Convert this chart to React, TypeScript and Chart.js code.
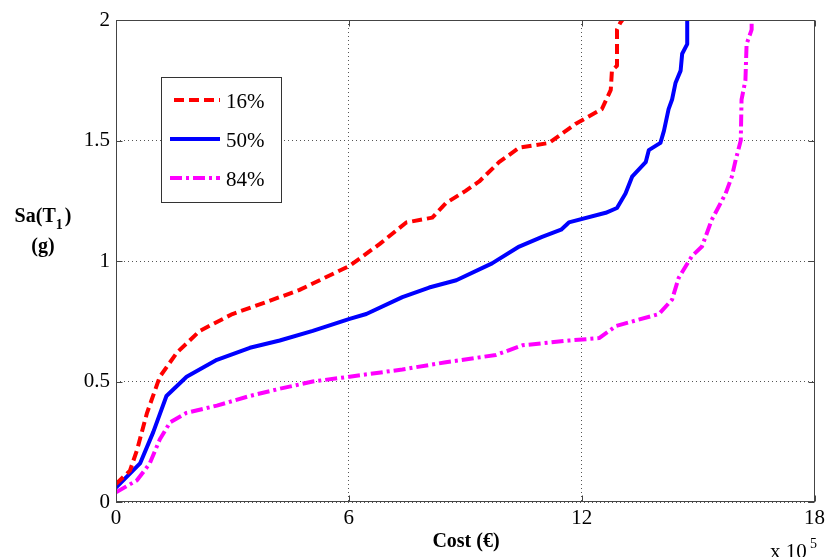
import React, { useEffect, useRef } from "react";
import { Chart, registerables } from "chart.js";

Chart.register(...registerables);

// Cost (x 10^5 €) and Sa(T1) (g) for each percentile curve
const cost16 = [0, 0.36, 0.54, 0.8, 1.13, 1.57, 2.16, 3.0, 3.88, 4.73, 6.02, 6.79, 7.48, 8.15, 8.5, 9.0, 9.36, 9.87, 10.39, 11.16, 11.85, 12.52, 12.75, 12.78, 12.91, 12.91, 13.0, 13.05];
const sa16 = [0.075, 0.13, 0.215, 0.37, 0.52, 0.62, 0.71, 0.78, 0.83, 0.88, 0.98, 1.07, 1.16, 1.18, 1.24, 1.29, 1.33, 1.41, 1.47, 1.49, 1.57, 1.63, 1.71, 1.79, 1.81, 1.96, 1.99, 2.0];

const cost50 = [0, 0.62, 0.96, 1.3, 1.82, 2.6, 3.45, 4.22, 5.07, 6.02, 6.45, 7.38, 8.07, 8.77, 9.69, 10.39, 10.98, 11.47, 11.67, 12.62, 12.91, 13.13, 13.3, 13.65, 13.73, 14.03, 14.12, 14.24, 14.33, 14.42, 14.55, 14.59, 14.72, 14.72];
const sa50 = [0.06, 0.16, 0.29, 0.44, 0.52, 0.59, 0.64, 0.67, 0.71, 0.76, 0.78, 0.85, 0.89, 0.92, 0.99, 1.06, 1.1, 1.13, 1.16, 1.2, 1.22, 1.28, 1.35, 1.41, 1.46, 1.49, 1.54, 1.63, 1.67, 1.74, 1.79, 1.86, 1.9, 2.0];

const cost84 = [0, 0.54, 0.87, 1.13, 1.39, 1.82, 2.6, 3.45, 4.22, 5.07, 6.02, 7.38, 8.5, 9.79, 10.47, 11.67, 12.45, 12.88, 13.99, 14.33, 14.5, 14.84, 15.1, 15.35, 15.71, 15.87, 15.97, 16.1, 16.12, 16.22, 16.25, 16.38, 16.38];
const sa84 = [0.04, 0.09, 0.16, 0.26, 0.33, 0.37, 0.4, 0.44, 0.47, 0.5, 0.52, 0.55, 0.58, 0.61, 0.65, 0.67, 0.68, 0.73, 0.78, 0.84, 0.93, 1.02, 1.06, 1.17, 1.28, 1.35, 1.42, 1.5, 1.67, 1.75, 1.9, 1.96, 2.0];

const seriesLabels = ["16%", "50%", "84%"];
const seriesColors = ["#ff0000", "#0000ff", "#ff00ff"];
const seriesDashes = [[10, 5], [], [12, 4, 3, 4]];

const xTicks = [0, 6, 12, 18];
const yTicks = [0, 0.5, 1, 1.5, 2];

const SERIF = '"Liberation Serif", "Times New Roman", serif';

function toPoints(xs: number[], ys: number[]) {
  return xs.map((x, i) => ({ x, y: ys[i] }));
}

export default function App() {
  const ref = useRef<HTMLCanvasElement | null>(null);

  useEffect(() => {
    if (!ref.current) return;
    const pairs = [
      [cost16, sa16],
      [cost50, sa50],
      [cost84, sa84],
    ];

    const decor = {
      id: "decor",
      afterDraw(chart: any) {
        const ctx = chart.ctx as CanvasRenderingContext2D;
        const a = chart.chartArea;
        const xs = chart.scales.x;
        const ys = chart.scales.y;
        ctx.save();
        // axes box
        ctx.strokeStyle = "#444";
        ctx.lineWidth = 1;
        ctx.setLineDash([]);
        const L = Math.round(a.left) + 0.5;
        const R = Math.round(a.right) - 0.5;
        const T = Math.round(a.top) + 0.5;
        const B = Math.round(a.bottom) - 0.5;
        ctx.strokeRect(L, T, R - L, B - T);
        // inward tick marks
        ctx.beginPath();
        xTicks.forEach((v) => {
          const p = Math.round(xs.getPixelForValue(v)) + 0.5;
          ctx.moveTo(p, B);
          ctx.lineTo(p, B - 6);
          ctx.moveTo(p, T);
          ctx.lineTo(p, T + 6);
        });
        yTicks.forEach((v) => {
          const p = Math.round(ys.getPixelForValue(v)) + 0.5;
          ctx.moveTo(L, p);
          ctx.lineTo(L + 6, p);
          ctx.moveTo(R, p);
          ctx.lineTo(R - 6, p);
        });
        ctx.stroke();

        // legend
        ctx.fillStyle = "#fff";
        ctx.fillRect(161, 77, 120, 125);
        ctx.strokeStyle = "#333";
        ctx.strokeRect(161.5, 77.5, 120, 125);
        const rowsY = [100, 139, 178];
        const lineStart = [174, 170, 170];
        ctx.font = `21px ${SERIF}`;
        ctx.textBaseline = "middle";
        ctx.textAlign = "left";
        seriesLabels.forEach((lab, i) => {
          ctx.strokeStyle = seriesColors[i];
          ctx.lineWidth = 4;
          ctx.setLineDash(seriesDashes[i]);
          ctx.beginPath();
          ctx.moveTo(lineStart[i], rowsY[i]);
          ctx.lineTo(220, rowsY[i]);
          ctx.stroke();
          ctx.setLineDash([]);
          ctx.fillStyle = "#000";
          ctx.fillText(lab, 226, rowsY[i] + 2);
        });

        // y axis title
        ctx.fillStyle = "#000";
        ctx.textBaseline = "alphabetic";
        ctx.font = `bold 20px ${SERIF}`;
        const p1 = "Sa(T";
        const w1 = ctx.measureText(p1).width;
        ctx.font = `bold 14px ${SERIF}`;
        const wSub = ctx.measureText("1").width;
        ctx.font = `bold 20px ${SERIF}`;
        const wP = ctx.measureText(")").width;
        const total = w1 + wSub + 2 + wP;
        const x0 = 43 - total / 2;
        ctx.fillText(p1, x0, 222);
        ctx.font = `bold 14px ${SERIF}`;
        ctx.fillText("1", x0 + w1, 229);
        ctx.font = `bold 20px ${SERIF}`;
        ctx.fillText(")", x0 + w1 + wSub + 2, 222);
        ctx.textAlign = "center";
        ctx.fillText("(g)", 43, 252);

        // x axis title
        ctx.fillText("Cost (€)", 466, 547);

        // exponent
        ctx.textAlign = "left";
        ctx.font = `21px ${SERIF}`;
        ctx.fillText("x 10", 770, 558);
        ctx.font = `14px ${SERIF}`;
        ctx.fillText("5", 810, 548);
        ctx.restore();
      },
    };

    const chart = new Chart(ref.current, {
      type: "line",
      data: {
        datasets: pairs.map((p, i) => ({
          label: seriesLabels[i],
          data: toPoints(p[0], p[1]),
          borderColor: seriesColors[i],
          backgroundColor: seriesColors[i],
          borderWidth: 4,
          borderDash: seriesDashes[i],
          pointRadius: 0,
          tension: 0,
          fill: false,
          borderJoinStyle: "round" as const,
        })),
      },
      options: {
        responsive: false,
        animation: false,
        maintainAspectRatio: false,
        layout: { padding: { top: 20, right: 13, left: 0, bottom: 0 } },
        plugins: { legend: { display: false }, tooltip: { enabled: false }, title: { display: false } },
        scales: {
          x: {
            type: "linear",
            min: 0,
            max: 18,
            afterFit: (s: any) => {
              s.height = 55;
            },
            afterBuildTicks: (s: any) => {
              s.ticks = xTicks.map((v) => ({ value: v }));
            },
            ticks: {
              color: "#000",
              padding: 4,
              font: { family: SERIF, size: 21 },
              maxRotation: 0,
            },
            grid: { color: "#555", lineWidth: 1, drawTicks: false },
            border: { display: false, dash: [1, 3] },
          },
          y: {
            type: "linear",
            min: 0,
            max: 2,
            afterFit: (s: any) => {
              s.width = 116;
            },
            afterBuildTicks: (s: any) => {
              s.ticks = yTicks.map((v) => ({ value: v }));
            },
            ticks: {
              color: "#000",
              padding: 6,
              font: { family: SERIF, size: 21 },
              callback: (v: any) => String(v),
            },
            grid: { color: "#555", lineWidth: 1, drawTicks: false },
            border: { display: false, dash: [1, 3] },
          },
        },
      },
      plugins: [decor],
    });
    return () => chart.destroy();
  }, []);

  return (
    <div style={{ position: "absolute", left: 0, top: 0, width: 829, height: 557, background: "#fff" }}>
      <canvas ref={ref} width={829} height={557} style={{ width: 829, height: 557, display: "block" }} />
    </div>
  );
}
